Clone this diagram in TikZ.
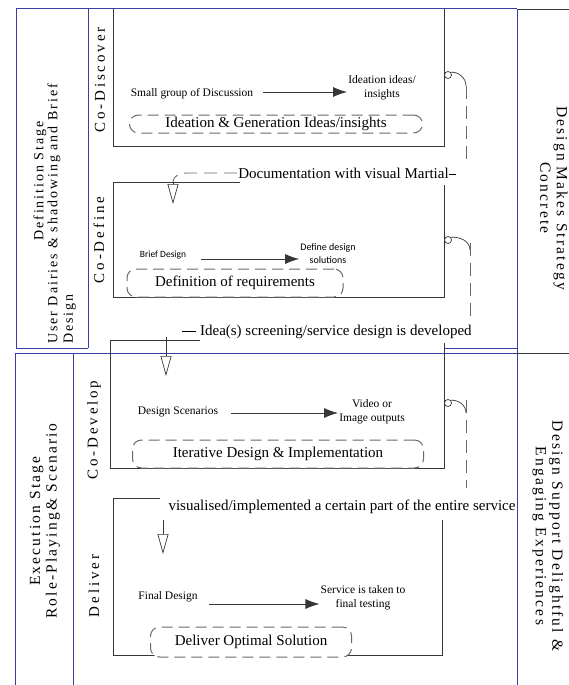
\documentclass[tikz,border=0pt]{standalone}
\usepackage{fontspec}
\setmainfont{Liberation Serif}
\newfontfamily\spaced[LetterSpace=14]{Liberation Serif}
\newfontfamily\wide[LetterSpace=19]{Liberation Serif}
\newfontfamily\calib{Carlito}
\usetikzlibrary{arrows.meta,calc,positioning}
\definecolor{framecol}{RGB}{60,60,165}
\definecolor{inkcol}{RGB}{55,55,55}
\definecolor{dashcol}{RGB}{105,105,105}

\begin{document}
\begin{tikzpicture}[x=1pt,y=-1pt,>=Stealth,
  frame/.style={draw=framecol,line width=1pt},
  boxline/.style={draw=inkcol,line width=0.8pt},
  flow/.style={draw=inkcol,line width=0.9pt,-{Latex[length=14pt,width=10pt]}},
  hollow/.style={draw=inkcol,line width=0.7pt,-{Triangle[open,length=20pt,width=11pt]}},
  link/.style={draw=dashcol,line width=0.9pt,dash pattern=on 13pt off 7pt},
  dbox/.style={draw=dashcol,line width=1pt,dash pattern=on 11pt off 6pt,rounded corners=9pt,fill=white},
  hook/.style={draw=inkcol,circle,minimum size=7pt,inner sep=0pt,fill=white,line width=0.7pt},
  body/.style={font=\fontsize{15}{17}\selectfont,inner sep=1pt},
  small/.style={font=\fontsize{11.5}{14}\selectfont,inner sep=1pt,align=center},
  sans/.style={font=\calib\fontsize{10}{13}\selectfont,inner sep=1pt,align=center},
  phase/.style={font=\wide\fontsize{15}{17}\selectfont,rotate=90,inner sep=0pt},
  stage/.style={font=\spaced\fontsize{14}{15.5}\selectfont,rotate=90,inner sep=0pt},
  side/.style={font=\spaced\fontsize{15.5}{16.5}\selectfont,rotate=90,inner sep=0pt}]
\useasboundingbox (0,0) rectangle (569,685);

% table frames
\draw[frame] (16,9) -- (517,9);
\draw[boxline] (517,9) -- (569,9);
\draw[frame] (16,9) -- (16,348) -- (88,348);
\draw[frame] (88,9) -- (88,348);
\draw[frame] (445,348) -- (517,348);
\draw[frame] (517,9) -- (517,685);
\draw[frame] (15,685) -- (15,353) -- (517,353);
\draw[boxline] (517,353) -- (569,353);
\draw[frame] (73,353) -- (73,685);

% stage and phase labels
\node[stage] (defstage) at (40,181) {Definition Stage};
\node[stage,align=left,anchor=south west] (defnote) at (76,344) {User Dairies \& shadowing and Brief\\Design};
\node[side,align=center] (exestage) at (45,521) {Execution Stage\\Role-Playing\& Scenario};
\node[phase] (discover) at (100,80) {Co-Discover};
\node[phase] (define) at (99,240) {Co-Define};
\node[phase] (develop) at (94,430) {Co-Develop};
\node[phase] (deliver) at (94,586) {Deliver};
\node[side,rotate=180,align=center] (concrete) at (554,198) {Design Makes Strategy\\Concrete};
\node[side,rotate=180,align=center] (engaging) at (548,536) {Design Support Delightful \&\\Engaging Experiences};

% Co-Discover
\draw[boxline] (113,9) -- (113,146) -- (444,146) -- (444,9);
\node[small] (group) at (192,94) {Small group of Discussion};
\node[small] (insight) at (382,88) {Ideation ideas/\\insights};
\draw[flow] ([xshift=9pt,yshift=2pt]group.east) -- ([yshift=2pt]group.east -| insight.west);
\node[dbox,minimum width=293pt,minimum height=18pt] (gen) at (276,124) {};
\node[body,fill=white,inner sep=0pt] (gentext) at (gen) {Ideation \& Generation Ideas/insights};

% Co-Define
\draw[boxline] (240,182) -- (113,182) -- (113,297) -- (444,297) -- (444,185);
\node[sans,font=\calib\fontsize{9.5}{12}\selectfont] (brief) at (163,255) {Brief Design};
\node[sans] (solution) at (328,254) {Define design\\solutions};
\draw[flow] ([xshift=14pt,yshift=-4pt]brief.east) -- ([yshift=-4pt]brief.east -| solution.west);
\node[dbox,body,minimum width=216pt,minimum height=28pt] (requirement) at (235,283) {Definition of requirements};

% Co-Develop
\draw[boxline] (200,340) -- (110,340) -- (110,468) -- (444,468) -- (444,343);
\node[small] (scenario) at (178,412) {Design Scenarios};
\node[small] (video) at (372,412) {Video or\\Image outputs};
\draw[flow] ([xshift=12pt,yshift=-1pt]scenario.east) -- ([yshift=-1pt]scenario.east -| video.west);
\node[dbox,body,minimum width=291pt,minimum height=28pt] (iterate) at (278,454) {Iterative Design \& Implementation};

% Deliver
\draw[boxline] (160,498) -- (113,498) -- (113,655) -- (442,655) -- (442,520);
\node[small] (final) at (168,597) {Final Design};
\node[small] (testing) at (363,598) {Service is taken to\\final testing};
\draw[flow] ([xshift=10pt,yshift=-7pt]final.east) -- ([yshift=-7pt]final.east -| testing.west);
\node[dbox,body,minimum width=201pt,minimum height=30pt] (optimal) at (251,642) {Deliver Optimal Solution};

% links between phases
\node[body] (docu) at (347,173) {Documentation with visual Martial\raisebox{3.5pt}{\rule{7pt}{0.6pt}}};
\node[body] (screen) at (327,332) {\raisebox{3.5pt}{\rule{14pt}{0.6pt}}\ Idea(s) screening/service design is developed};
\node[body] (visual) at (342,507) {visualised/implemented a certain part of the entire service};

\node[hook] (h1) at (448,75) {};
\draw[draw=inkcol,line width=0.7pt] (h1.north east) to[out=5,in=90] (466,86) coordinate (k1);
\draw[link] (k1) -- (466,164);
\draw[link] (docu.west) -- (187,173) to[out=180,in=90] (173,182) coordinate (t1);
\draw[hollow] (t1) -- (173,204);

\node[hook] (h2) at (448,240) {};
\draw[draw=inkcol,line width=0.7pt] (h2.north east) to[out=5,in=90] (470,250) coordinate (k2);
\draw[link] ([yshift=7pt]k2) -- (470,318);
\draw[hollow] (166,337) coordinate (t2) -- (166,376);

\node[hook] (h3) at (448,403) {};
\draw[draw=inkcol,line width=0.7pt] (h3.north east) to[out=5,in=90] (466,413) coordinate (k3);
\draw[link] ([yshift=13pt]k3) -- (466,488);
\draw[hollow] (163,520) coordinate (t3) -- (163,554);
\end{tikzpicture}
\end{document}
